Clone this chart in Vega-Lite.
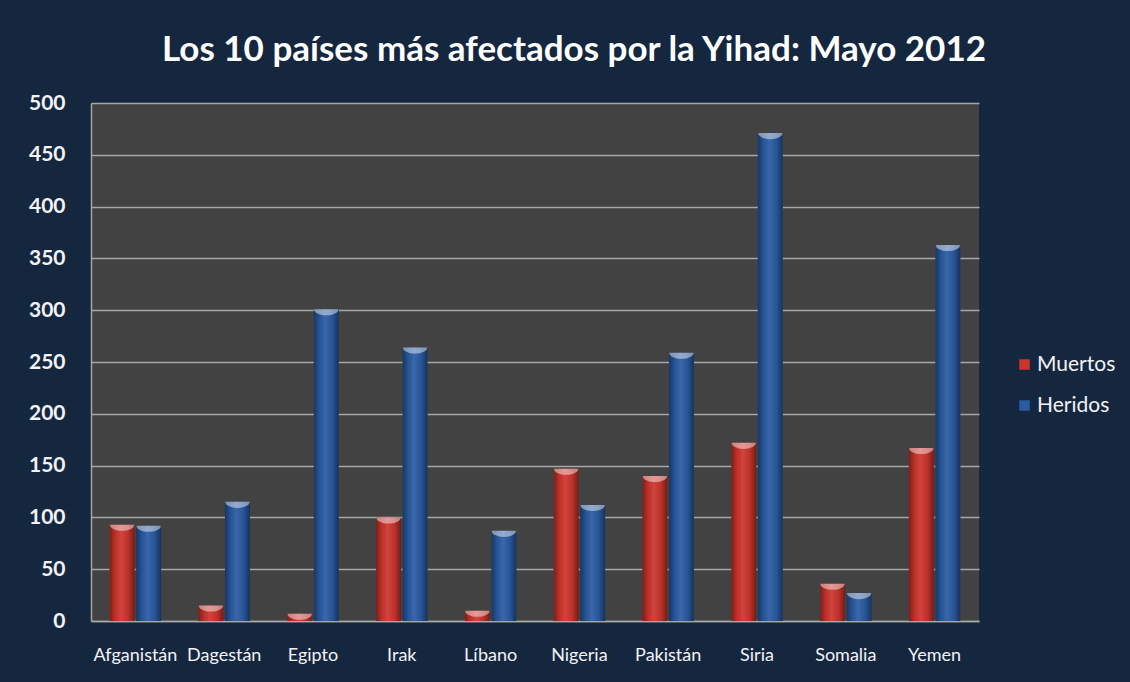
{
  "$schema": "https://vega.github.io/schema/vega-lite/v6.json",
  "autosize": {"type": "none"},
  "width": 888,
  "height": 518,
  "padding": {"left": 91, "top": 103, "right": 151, "bottom": 61},
  "background": "#15273f",
  "title": {
    "text": "Los 10 países más afectados por la Yihad: Mayo 2012",
    "font": "Lato",
    "fontSize": 35,
    "fontWeight": "bold",
    "color": "#ffffff",
    "anchor": "middle",
    "frame": "group",
    "baseline": "alphabetic",
    "dx": 39,
    "offset": -4
  },
  "config": {
    "view": {"fill": "#424242", "stroke": null},
    "axis": {"labelFont": "Lato", "labelColor": "#f2f2f7"},
    "legend": {"labelFont": "Lato", "labelColor": "#f2f2f7"}
  },
  "data": {
    "values": [
      {"pais": "Afganistán", "serie": "Muertos", "valor": 93},
      {"pais": "Afganistán", "serie": "Heridos", "valor": 92},
      {"pais": "Dagestán", "serie": "Muertos", "valor": 15},
      {"pais": "Dagestán", "serie": "Heridos", "valor": 115},
      {"pais": "Egipto", "serie": "Muertos", "valor": 7},
      {"pais": "Egipto", "serie": "Heridos", "valor": 301},
      {"pais": "Irak", "serie": "Muertos", "valor": 100},
      {"pais": "Irak", "serie": "Heridos", "valor": 264},
      {"pais": "Líbano", "serie": "Muertos", "valor": 10},
      {"pais": "Líbano", "serie": "Heridos", "valor": 87},
      {"pais": "Nigeria", "serie": "Muertos", "valor": 147},
      {"pais": "Nigeria", "serie": "Heridos", "valor": 112},
      {"pais": "Pakistán", "serie": "Muertos", "valor": 140},
      {"pais": "Pakistán", "serie": "Heridos", "valor": 259},
      {"pais": "Siria", "serie": "Muertos", "valor": 172},
      {"pais": "Siria", "serie": "Heridos", "valor": 471},
      {"pais": "Somalia", "serie": "Muertos", "valor": 36},
      {"pais": "Somalia", "serie": "Heridos", "valor": 27},
      {"pais": "Yemen", "serie": "Muertos", "valor": 167},
      {"pais": "Yemen", "serie": "Heridos", "valor": 363}
    ]
  },
  "encoding": {
    "x": {
      "field": "pais",
      "type": "nominal",
      "sort": null,
      "scale": {"paddingInner": 0.42, "paddingOuter": 0.21},
      "axis": {
        "title": null,
        "labelAngle": 0,
        "labelFontSize": 18,
        "labelPadding": 25,
        "ticks": false,
        "domainColor": "#a6a6a6",
        "domainWidth": 1.5,
        "grid": false
      }
    },
    "xOffset": {
      "field": "serie",
      "type": "nominal",
      "sort": ["Muertos", "Heridos"],
      "scale": {"paddingInner": 0.06, "paddingOuter": 0}
    },
    "y": {
      "field": "valor",
      "type": "quantitative",
      "scale": {"domain": [0, 500], "nice": false},
      "axis": {
        "title": null,
        "values": [0, 50, 100, 150, 200, 250, 300, 350, 400, 450, 500],
        "labelFontSize": 21,
        "labelFontWeight": "bold",
        "labelPadding": 26,
        "ticks": false,
        "domainColor": "#a6a6a6",
        "domainWidth": 1.5,
        "grid": true,
        "gridColor": "#a6a6a6",
        "gridWidth": 1.5
      }
    }
  },
  "layer": [
    {
      "mark": {"type": "bar"},
      "encoding": {
        "color": {
          "field": "serie",
          "type": "nominal",
          "sort": ["Muertos", "Heridos"],
          "scale": {"domain": ["Muertos", "Heridos"], "range": ["#cc352d", "#2a5ba3"]},
          "legend": {
            "title": null,
            "orient": "none",
            "legendX": 923,
            "legendY": 251,
            "symbolType": "square",
            "symbolSize": 110,
            "symbolStrokeWidth": 0,
            "labelFontSize": 21,
            "labelOffset": 2,
            "rowPadding": 19
          }
        }
      }
    },
    {
      "mark": {
        "type": "bar",
        "fill": {
          "gradient": "linear",
          "x1": 0, "y1": 0, "x2": 1, "y2": 0,
          "stops": [
            {"offset": 0, "color": "rgba(0,0,0,0.40)"},
            {"offset": 0.25, "color": "rgba(0,0,0,0.05)"},
            {"offset": 0.45, "color": "rgba(255,255,255,0.08)"},
            {"offset": 0.75, "color": "rgba(0,0,0,0.08)"},
            {"offset": 1, "color": "rgba(0,0,0,0.45)"}
          ]
        }
      }
    },
    {
      "mark": {
        "type": "point",
        "shape": "M-1,0 A1,0.5 0 0,0 1,0 Z",
        "filled": true,
        "fill": "#ffffff",
        "opacity": 0.45,
        "strokeWidth": 0,
        "size": 600
      }
    }
  ]
}
